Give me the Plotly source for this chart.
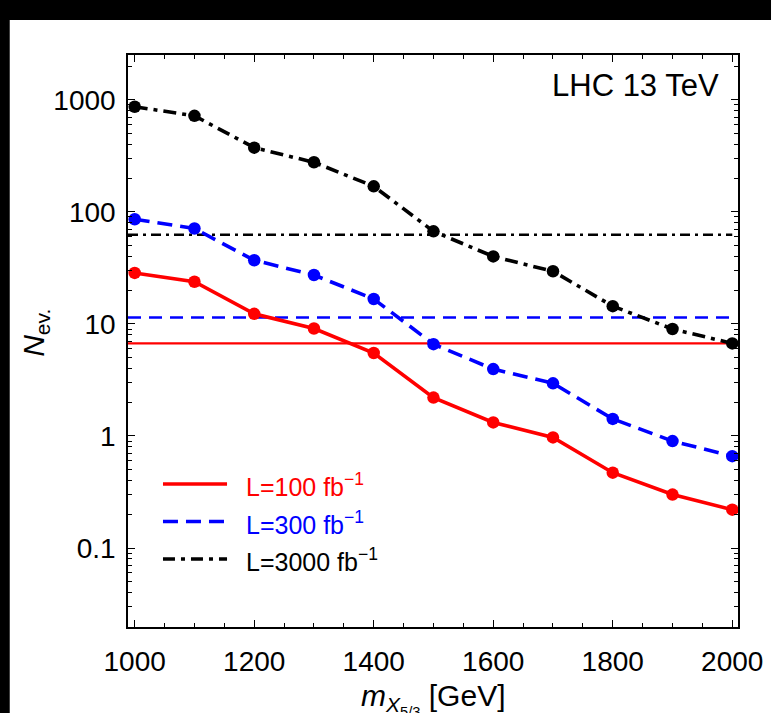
import numpy as np
import plotly.graph_objects as go

# ---- data ----
masses = [1000, 1100, 1200, 1300, 1400, 1500, 1600, 1700, 1800, 1900, 2000]
n_100 = [28.5, 23.8, 12.3, 9.1, 5.5, 2.2, 1.32, 0.97, 0.47, 0.30, 0.22]
n_300 = [86, 71, 37, 27.3, 16.7, 6.6, 3.95, 2.95, 1.42, 0.90, 0.66]
n_3000 = [868, 720, 374, 277, 169, 67, 40, 29.5, 14.4, 9.0, 6.7]
thr_100 = 6.7
thr_300 = 11.4
thr_3000 = 62.4

labels = ["L=100 fb<sup>\u22121</sup>", "L=300 fb<sup>\u22121</sup>", "L=3000 fb<sup>\u22121</sup>"]
y_tickvals = [0.1, 1, 10, 100, 1000]
y_ticktext = ["0.1", "1", "10", "100", "1000"]
x_tickvals = [1000, 1200, 1400, 1600, 1800, 2000]

FONT = "Liberation Sans, Arial, Helvetica, sans-serif"
RED, BLUE, BLACK = "#ff0000", "#0000ff", "#000000"

# ---- geometry (pixels) ----
W, H = 775, 713
L, R, T, B = 127.5, 746.5, 55, 627
PW, PH = R - L, B - T
XRANGE = [988.8, 2009.6]
YRANGE = [-1.705, 3.40]


def px(x):
    return (x - L) / PW


def py(y):
    return (B - y) / PH


fig = go.Figure()

series = [
    (n_100, RED, "solid", thr_100, "solid", 2.2),
    (n_300, BLUE, "15px,8px", thr_300, "13px,8px", 2.6),
    (n_3000, BLACK, "13px,6px,4px,6px", thr_3000, "10px,5px,3px,5px", 2.6),
]

for vals, col, dash, thr, tdash, tw in series:
    fig.add_trace(go.Scatter(
        x=[XRANGE[0], masses[-1]], y=[thr, thr], mode="lines",
        line=dict(color=col, width=tw, dash=tdash), showlegend=False,
        hoverinfo="skip"))

for vals, col, dash, thr, tdash, tw in series:
    fig.add_trace(go.Scatter(
        x=masses, y=vals, mode="lines+markers",
        line=dict(color=col, width=3.6, dash=dash),
        marker=dict(color=col, size=12.5, symbol="circle"),
        showlegend=False))

# black border strips at top and left (as in the reference image)
fig.add_shape(type="rect", xref="paper", yref="paper",
              x0=px(-5), x1=px(W + 5), y0=py(20), y1=py(-5),
              fillcolor="black", line=dict(width=0), layer="below")
fig.add_shape(type="rect", xref="paper", yref="paper",
              x0=px(-5), x1=px(7.5), y0=py(H + 5), y1=py(-5),
              fillcolor="black", line=dict(width=0), layer="below")

# manual legend
leg_y = [484, 521.5, 559]
leg_cols = [RED, BLUE, BLACK]
leg_dash = ["solid", "15px,8px", "12px,6px,4px,6px"]
for yy, col, d, lab in zip(leg_y, leg_cols, leg_dash, labels):
    fig.add_shape(type="line", xref="paper", yref="paper",
                  x0=px(163), x1=px(228), y0=py(yy), y1=py(yy),
                  line=dict(color=col, width=3.4, dash=d))
    fig.add_annotation(xref="paper", yref="paper", x=px(245), y=py(yy + 1),
                       text=lab, showarrow=False, xanchor="left", yanchor="middle",
                       font=dict(family=FONT, size=25, color=col))

fig.add_annotation(xref="paper", yref="paper", x=px(729), y=py(86),
                   text="LHC 13 TeV", showarrow=False, xanchor="right", yanchor="middle",
                   font=dict(family=FONT, size=31, color="black"))

# axis titles
fig.add_annotation(xref="paper", yref="paper", x=px(33), y=py(333),
                   text="<i>N</i><sub>ev.</sub>", showarrow=False, textangle=-90,
                   xanchor="center", yanchor="middle",
                   font=dict(family=FONT, size=30, color="black"))
fig.add_annotation(xref="paper", yref="paper", x=px(437), y=py(699),
                   text="<i>m</i><sub><i>X</i><sub>5/3</sub></sub> [GeV]", showarrow=False,
                   xanchor="center", yanchor="middle",
                   font=dict(family=FONT, size=30, color="black"))

minor_y = [m * 10.0 ** e for e in range(-2, 4) for m in range(2, 10)]

fig.update_layout(
    width=W, height=H,
    margin=dict(l=L, r=W - R, t=T, b=H - B, pad=0),
    paper_bgcolor="white", plot_bgcolor="white",
    showlegend=False,
    xaxis=dict(range=XRANGE, tickvals=x_tickvals, ticks="inside", ticklen=7,
               tickwidth=1, tickcolor="black", showline=True, linecolor="black",
               linewidth=1.5, mirror="allticks", showgrid=False, zeroline=False,
               tickfont=dict(family=FONT, size=28, color="black"),
               ticklabelstandoff=9,
               minor=dict(dtick=50, tick0=1000, ticks="inside", ticklen=4,
                          tickcolor="black", tickwidth=1, showgrid=False)),
    yaxis=dict(type="log", range=YRANGE, tickvals=y_tickvals, ticktext=y_ticktext,
               ticks="inside", ticklen=7, tickwidth=1, tickcolor="black",
               showline=True, linecolor="black", linewidth=1.5, mirror="allticks",
               showgrid=False, zeroline=False,
               tickfont=dict(family=FONT, size=28, color="black"),
               ticklabelstandoff=5,
               minor=dict(tickmode="array", tickvals=minor_y, ticks="inside", ticklen=4,
                          tickcolor="black", tickwidth=1, showgrid=False)),
)

post = ("document.documentElement.style.overflow='hidden';"
        "document.body.style.overflow='hidden';"
        "document.body.style.margin='0';"
        "document.body.style.background='white';")

fig.write_html("out.html", post_script=post)
